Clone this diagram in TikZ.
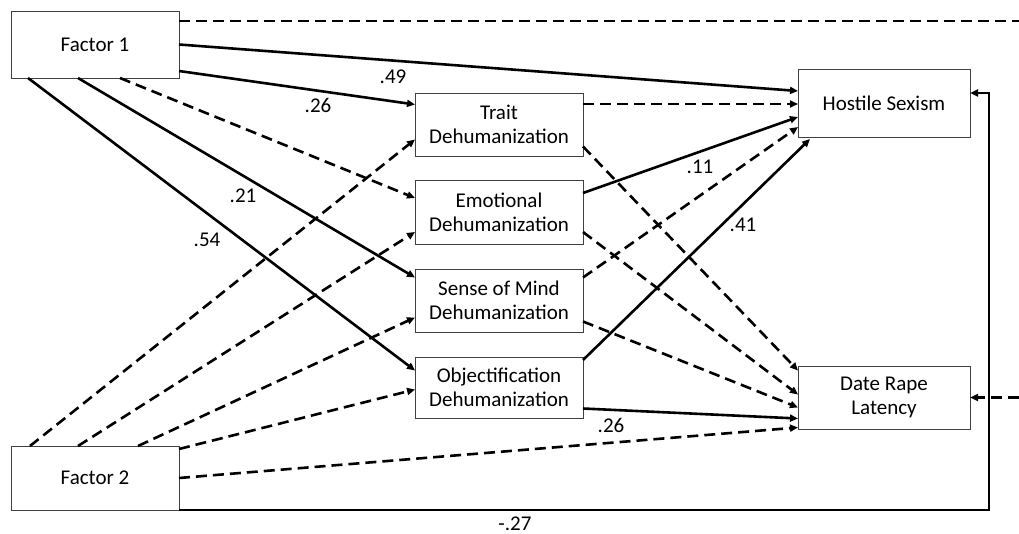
\documentclass[tikz,border=0pt]{standalone}
\usepackage{fontspec}
\setmainfont{Carlito}
\usetikzlibrary{arrows.meta,calc}
\begin{document}
\begin{tikzpicture}[x=1pt,y=-1pt,
  box/.style={draw=black!75,line width=0.9pt,minimum width=168pt,inner sep=0pt,outer sep=0pt,align=center,font=\fontsize{21}{24}\selectfont},
  lab/.style={font=\fontsize{21}{24}\selectfont,inner sep=0pt},
  path/.style={line width=2.6pt,-{Triangle[length=8pt,width=7pt]}},
  dpath/.style={path,dash pattern=on 11pt off 6pt},
  link/.style={line width=2.6pt},
  dlink/.style={link,dash pattern=on 11pt off 6pt}]
\useasboundingbox (0,0) rectangle (1019,534);
\node[box,minimum height=67pt] (f1) at (95,44.5) {Factor 1};
\node[box,minimum height=64pt] (f2) at (95,478) {Factor 2};
\node[box,minimum height=63pt] (trait) at (499,124.5) {Trait\\Dehumanization};
\node[box,minimum height=64pt] (emo) at (499,212) {Emotional\\Dehumanization};
\node[box,minimum height=63pt] (sense) at (499,300.5) {Sense of Mind\\Dehumanization};
\node[box,minimum height=61pt] (obj) at (499,387.5) {Objectification\\Dehumanization};
\node[box,minimum width=172pt,minimum height=68pt] (hs) at (884,103) {Hostile Sexism};
\node[box,minimum width=172pt,minimum height=63pt] (dr) at (884,397.5) {Date Rape\\Latency};
\coordinate (topend) at (1019,21);
\coordinate (rightend) at (1019,397.5);
\coordinate (corner) at (989,510);
% Factor 1 paths
\draw[path] (f1.east) -- ($(hs.west)+(0,-12)$);
\draw[path] ($(f1.south east)+(0,-7)$) -- ($(trait.west)+(0,-20)$);
\draw[dpath] ($(f1.south west)+(109,0)$) -- ($(emo.west)+(0,-14)$);
\draw[path] ($(f1.south west)+(67,0)$) -- ($(sense.west)+(0,-23)$);
\draw[path] ($(f1.south west)+(17,0)$) -- ($(obj.west)+(0,-17)$);
\draw[dlink] ($(f1.north east)+(0,10)$) -- (topend);
% Factor 2 paths
\draw[dpath] ($(f2.north west)+(19,0)$) -- ($(trait.west)+(0,15)$);
\draw[dpath] ($(f2.north west)+(67,0)$) -- ($(emo.west)+(0,20)$);
\draw[dpath] ($(f2.north west)+(127,0)$) -- ($(sense.west)+(0,17)$);
\draw[dpath] ($(f2.north east)+(0,3)$) -- ($(obj.west)+(0,2)$);
\draw[dpath] (f2.east) -- ($(dr.west)+(0,30)$);
\draw[path] (f2.south east) -- (corner) |- ($(hs.east)+(0,-10)$);
% mediators
\draw[dpath] ($(trait.east)+(0,-20.5)$) -- ($(hs.west)+(0,1)$);
\draw[dpath] ($(trait.east)+(0,22)$) -- ($(dr.west)+(0,-27)$);
\draw[path] ($(emo.east)+(0,-19)$) -- ($(hs.west)+(0,14)$);
\draw[dpath] ($(emo.east)+(0,20)$) -- ($(dr.west)+(0,-3)$);
\draw[dpath] ($(sense.east)+(0,-23)$) -- ($(hs.west)+(0,24)$);
\draw[dpath] ($(sense.east)+(0,21)$) -- ($(dr.west)+(0,10)$);
\draw[path] ($(obj.north east)+(0,3)$) -- ($(hs.south west)+(12,2)$);
\draw[path] ($(obj.east)+(0,21)$) -- ($(dr.west)+(0,21)$);
\draw[dpath] (rightend) -- (dr.east);
% labels
\node[lab] (l49) at (393,77) {.49};
\node[lab] (l26a) at (318,105) {.26};
\node[lab] (l21) at (243,196) {.21};
\node[lab] (l54) at (207,240) {.54};
\node[lab] (l11) at (700,167) {.11};
\node[lab] (l41) at (743,225) {.41};
\node[lab] (l26b) at (611,425) {.26};
\node[lab] (l27) at (515,524) {-.27};
\end{tikzpicture}
\end{document}
